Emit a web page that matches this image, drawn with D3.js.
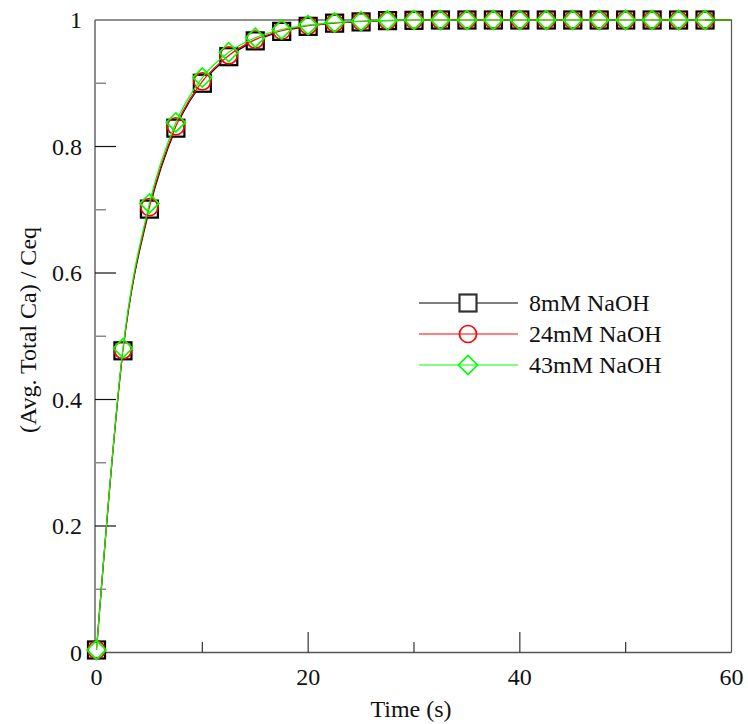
<!DOCTYPE html>
<html><head><meta charset="utf-8">
<script src="https://cdn.jsdelivr.net/npm/d3@7"></script>
<style>body{margin:0;background:#fff}svg{display:block}text{font-family:"Liberation Serif","Times New Roman",serif;fill:#111}</style>
</head><body>
<script>
const times = [0,2.5,5,7.5,10,12.5,15,17.5,20,22.5,25,27.5,30,32.5,35,37.5,40,42.5,45,47.5,50,52.5,55,57.5];
const naoh8  = [0.004,0.477,0.701,0.829,0.900,0.942,0.967,0.982,0.990,0.995,0.997,0.999,0.9995,1,1,1,1,1,1,1,1,1,1,1];
const naoh24 = [0.004,0.478,0.704,0.832,0.903,0.944,0.969,0.983,0.991,0.995,0.998,0.999,1,1,1,1,1,1,1,1,1,1,1,1];
const naoh43 = [0.004,0.481,0.710,0.838,0.909,0.949,0.972,0.985,0.992,0.996,0.998,0.9995,1,1,1,1,1,1,1,1,1,1,1,1];
const seriesNames = ["8mM NaOH","24mM NaOH","43mM NaOH"];
const xMajor = [0,20,40,60], xMinor = [10,30,50];
const yMajor = [0,0.2,0.4,0.6,0.8,1], yMinor = [0.1,0.3,0.5,0.7,0.9];
const xTitle = "Time (s)", yTitle = "(Avg. Total Ca) / Ceq";

const W = 748, H = 724;
const svg = d3.select("body").append("svg").attr("width", W).attr("height", H);
const x = d3.scaleLinear().domain([0,60]).range([96.5,731.5]);
const y = d3.scaleLinear().domain([0,1]).range([652.5,20]);

// frame
svg.append("line").attr("x1",95).attr("x2",731.5).attr("y1",20).attr("y2",20).attr("stroke","#222").attr("stroke-width",1.2);
svg.append("line").attr("x1",731.5).attr("x2",731.5).attr("y1",20).attr("y2",652.5).attr("stroke","#555").attr("stroke-width",1.2);
svg.append("line").attr("x1",95).attr("x2",95).attr("y1",20).attr("y2",652.5).attr("stroke","#666").attr("stroke-width",1.5);
svg.append("line").attr("x1",95).attr("x2",731.5).attr("y1",652.5).attr("y2",652.5).attr("stroke","#555").attr("stroke-width",1.5);

// x ticks
const gx = svg.append("g");
gx.selectAll(".xM").data(xMajor.filter(d=>d>0 && d<60)).join("line").attr("x1",d=>x(d)).attr("x2",d=>x(d)).attr("y1",652.5).attr("y2",632).attr("stroke","#333").attr("stroke-width",1.2);
gx.selectAll(".xm").data(xMinor).join("line").attr("x1",d=>x(d)).attr("x2",d=>x(d)).attr("y1",652.5).attr("y2",642).attr("stroke","#333").attr("stroke-width",1.2);
gx.selectAll("text").data(xMajor).join("text").attr("x",d=>x(d)).attr("y",685).attr("text-anchor","middle").attr("font-size",24).text(d=>d3.format("d")(d));

// y ticks
const gy = svg.append("g");
gy.selectAll(".yM").data(yMajor.filter(d=>d>0 && d<1)).join("line").attr("x1",95).attr("x2",116).attr("y1",d=>y(d)).attr("y2",d=>y(d)).attr("stroke","#111").attr("stroke-width",1.2);
gy.selectAll(".ym").data(yMinor).join("line").attr("x1",95).attr("x2",106).attr("y1",d=>y(d)).attr("y2",d=>y(d)).attr("stroke","#888").attr("stroke-width",1.5);
gy.selectAll("text").data(yMajor).join("text").attr("x",82).attr("y",d=>y(d)+8).attr("text-anchor","end").attr("font-size",24).text(d=>d===0||d===1?String(d):d3.format(".1f")(d));

// titles
svg.append("text").attr("x",411).attr("y",717).attr("text-anchor","middle").attr("font-size",24).text(xTitle);
svg.append("text").attr("transform","translate(36,330) rotate(-90)").attr("text-anchor","middle").attr("font-size",24).text(yTitle);

const line = d3.line().curve(d3.curveMonotoneX);
const styles = [
  {vals:naoh8, color:"#000000", shape:"square"},
  {vals:naoh24, color:"#ff0000", shape:"circle"},
  {vals:naoh43, color:"#00ff00", shape:"diamond"}
];
function drawMarker(g, shape, color, cx, cy){
  if(shape==="square") g.append("rect").attr("x",cx-8.5).attr("y",cy-8.5).attr("width",17).attr("height",17).attr("fill","#fff").attr("stroke",color).attr("stroke-width",2.2);
  else if(shape==="circle") g.append("circle").attr("cx",cx).attr("cy",cy).attr("r",8.5).attr("fill","none").attr("stroke",color).attr("stroke-width",1.7);
  else g.append("path").attr("d",`M${cx},${cy-9.5}L${cx+9.5},${cy}L${cx},${cy+9.5}L${cx-9.5},${cy}Z`).attr("fill","none").attr("stroke",color).attr("stroke-width",1.7);
}
styles.forEach(s=>{
  const pts = times.map((t,i)=>[x(t),y(s.vals[i])]);
  const g = svg.append("g");
  g.append("path").attr("d",line(pts)).attr("fill","none").attr("stroke",s.color).attr("stroke-width",1.2);
  pts.forEach(p=>drawMarker(g,s.shape,s.color,p[0],p[1]));
});
// continuation of lines to right edge
styles.forEach(s=>{
  svg.append("line").attr("x1",x(57.5)).attr("x2",x(60)).attr("y1",y(s.vals[s.vals.length-1])).attr("y2",y(1)).attr("stroke",s.color).attr("stroke-width",1.2);
});

// legend
const lg = svg.append("g");
const rowsY = [303,334,365];
styles.forEach((s,i)=>{
  lg.append("line").attr("x1",419).attr("x2",518).attr("y1",rowsY[i]).attr("y2",rowsY[i]).attr("stroke",s.color).attr("stroke-width",1.2);
  drawMarker(lg,s.shape,s.color==="#000000"?"#333":s.color,468,rowsY[i]);
  lg.append("text").attr("x",529).attr("y",rowsY[i]+8).attr("font-size",24).text(seriesNames[i]);
});
</script>
</body></html>
